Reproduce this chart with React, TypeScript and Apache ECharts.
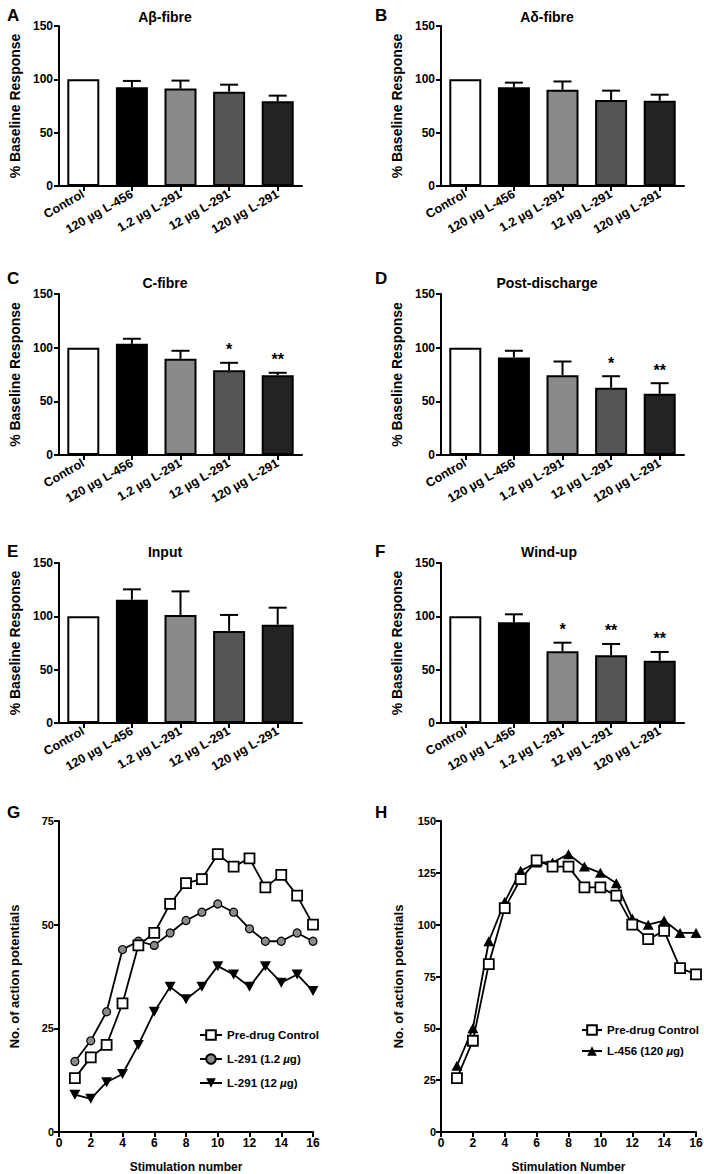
import React, { useEffect, useRef } from "react";
import * as echarts from "echarts";

const categories = ["Control", "120 µg L-456", "1.2 µg L-291", "12 µg L-291", "120 µg L-291"];

const aBetaMean = [100, 92.5, 91.3, 88.4, 79.4];
const aBetaSem = [0, 6, 7.5, 6.6, 5.3];
const aBetaStars = ["", "", "", "", ""];

const aDeltaMean = [100, 92.5, 90.3, 80.6, 80];
const aDeltaSem = [0, 4.4, 7.7, 8.8, 5.6];
const aDeltaStars = ["", "", "", "", ""];

const cFibreMean = [100, 103.6, 89.6, 79, 74.4];
const cFibreSem = [0, 4.7, 7.5, 6.9, 2.2];
const cFibreStars = ["", "", "", "*", "**"];

const postMean = [100, 90.9, 74.4, 62.6, 57];
const postSem = [0, 6.2, 12.7, 10.8, 9.9];
const postStars = ["", "", "", "*", "**"];

const inputMean = [100, 115.6, 101.3, 86.3, 92.2];
const inputSem = [0, 9.7, 22.1, 15, 15.9];
const inputStars = ["", "", "", "", ""];

const windMean = [100, 94.4, 67.2, 63.4, 58.4];
const windSem = [0, 7.5, 8.1, 10.7, 8.2];
const windStars = ["", "", "*", "**", "**"];

const barTicks = [0, 50, 100, 150];

const stimulation = [1, 2, 3, 4, 5, 6, 7, 8, 9, 10, 11, 12, 13, 14, 15, 16];
const gControl = [13, 18, 21, 31, 45, 48, 55, 60, 61, 67, 64, 66, 59, 62, 57, 50];
const gL291Low = [17, 22, 29, 44, 46, 45, 48, 51, 53, 55, 53, 49, 46, 46, 48, 46];
const gL291High = [9, 8, 12, 14, 21, 29, 35, 32, 35, 40, 38, 35, 40, 36, 38, 34];
const hControl = [26, 44, 81, 108, 122, 131, 128, 128, 118, 118, 114, 100, 93, 97, 79, 76];
const hL456 = [32, 50, 92, 111, 126, 130, 130, 134, 128, 125, 120, 103, 100, 102, 96, 96];

const FONT = '"Liberation Sans", Arial, Helvetica, sans-serif';
const barColors = ["#ffffff", "#000000", "#8a8a8a", "#555555", "#232323"];

const barPanels = [
  { title: "Aβ-fibre", letter: "A", mean: aBetaMean, sem: aBetaSem, stars: aBetaStars },
  { title: "Aδ-fibre", letter: "B", mean: aDeltaMean, sem: aDeltaSem, stars: aDeltaStars },
  { title: "C-fibre", letter: "C", mean: cFibreMean, sem: cFibreSem, stars: cFibreStars },
  { title: "Post-discharge", letter: "D", mean: postMean, sem: postSem, stars: postStars },
  { title: "Input", letter: "E", mean: inputMean, sem: inputSem, stars: inputStars },
  { title: "Wind-up", letter: "F", mean: windMean, sem: windSem, stars: windStars },
];

const barLayout = [
  { left: 59, top: 26, width: 243, height: 160, tx: 165, ty: 17, lx: 7, ly: 15 },
  { left: 441, top: 26, width: 243, height: 160, tx: 547, ty: 17, lx: 375, ly: 15 },
  { left: 59, top: 294, width: 243, height: 161, tx: 165, ty: 283, lx: 7, ly: 278 },
  { left: 441, top: 294, width: 243, height: 161, tx: 547, ty: 283, lx: 375, ly: 278 },
  { left: 59, top: 563, width: 243, height: 160, tx: 165, ty: 552, lx: 7, ly: 551 },
  { left: 441, top: 563, width: 243, height: 160, tx: 549, ty: 552, lx: 375, ly: 551 },
];

function errRender(sems: number[], stars: string[]) {
  return (params: any, api: any) => {
    const i = params.dataIndex;
    const m = api.value(1);
    const s = sems[i];
    const base = api.coord([i, m]);
    const top = api.coord([i, m + s]);
    const children: any[] = [];
    if (s > 0) {
      children.push({
        type: "line",
        shape: { x1: base[0], y1: base[1], x2: top[0], y2: top[1] },
        style: { stroke: "#000", lineWidth: 2 },
      });
      children.push({
        type: "line",
        shape: { x1: top[0] - 9, y1: top[1], x2: top[0] + 9, y2: top[1] },
        style: { stroke: "#000", lineWidth: 2 },
      });
    }
    if (stars[i]) {
      children.push({
        type: "text",
        x: top[0],
        y: top[1] - 13,
        style: {
          text: stars[i],
          fill: "#000",
          fontSize: 16,
          fontWeight: "bold",
          fontFamily: FONT,
          align: "center",
          verticalAlign: "middle",
        },
      });
    }
    return { type: "group", children };
  };
}

const axisLineStyle = { lineStyle: { color: "#000", width: 2 } };
const axisTickStyle = { show: true, length: 5, lineStyle: { color: "#000", width: 2 } };

export default function App() {
  const ref = useRef<HTMLDivElement>(null);
  useEffect(() => {
    if (!ref.current) return;
    const chart = echarts.init(ref.current, undefined, { renderer: "svg" });
    const grid: any[] = [];
    const xAxis: any[] = [];
    const yAxis: any[] = [];
    const series: any[] = [];
    const graphic: any[] = [];

    barPanels.forEach((p, k) => {
      const L = barLayout[k];
      grid.push({ left: L.left, top: L.top, width: L.width, height: L.height, containLabel: false, outerBoundsMode: "none" });
      xAxis.push({
        type: "category",
        gridIndex: k,
        data: categories,
        axisLine: axisLineStyle,
        axisTick: { ...axisTickStyle, alignWithLabel: true },
        axisLabel: { rotate: 30, interval: 0, margin: 7, fontSize: 12.5, fontWeight: "bold", color: "#000", fontFamily: FONT },
      });
      yAxis.push({
        type: "value",
        gridIndex: k,
        min: barTicks[0],
        max: barTicks[barTicks.length - 1],
        interval: barTicks[1] - barTicks[0],
        name: "% Baseline Response",
        nameLocation: "middle",
        nameGap: 37,
        nameTextStyle: { fontSize: 14, fontWeight: "bold", color: "#000", fontFamily: FONT },
        axisLine: { show: true, ...axisLineStyle },
        axisTick: axisTickStyle,
        splitLine: { show: false },
        axisLabel: { margin: 6, fontSize: 12, fontWeight: "bold", color: "#000", fontFamily: FONT },
      });
      series.push({
        type: "bar",
        xAxisIndex: k,
        yAxisIndex: k,
        barWidth: 32,
        data: p.mean.map((v, i) => ({
          value: v,
          itemStyle: { color: barColors[i], borderColor: "#000", borderWidth: 2 },
        })),
        z: 2,
      });
      series.push({
        type: "custom",
        xAxisIndex: k,
        yAxisIndex: k,
        renderItem: errRender(p.sem, p.stars),
        data: p.mean.map((v, i) => [i, v]),
        z: 3,
      });
      graphic.push({
        type: "text",
        x: L.tx,
        y: L.ty,
        style: {
          text: p.title,
          fontSize: 14,
          fontWeight: "bold",
          fontFamily: FONT,
          fill: "#000",
          align: "center",
          verticalAlign: "middle",
          textAlign: "center",
          textVerticalAlign: "middle",
        },
      });
      graphic.push({
        type: "text",
        x: L.lx,
        y: L.ly,
        style: {
          text: p.letter,
          fontSize: 17,
          fontWeight: "bold",
          fontFamily: FONT,
          fill: "#000",
          align: "left",
          verticalAlign: "middle",
          textAlign: "left",
          textVerticalAlign: "middle",
        },
      });
    });

    // line panels G and H
    const lineGrids = [
      { left: 59, top: 821, width: 254, height: 311, ymax: 75, xname: "Stimulation number", gap: 38, letter: "G", lx: 7 },
      { left: 441, top: 821, width: 255, height: 311, ymax: 150, xname: "Stimulation Number", gap: 36, letter: "H", lx: 375 },
    ];
    lineGrids.forEach((g, j) => {
      const k = 6 + j;
      grid.push({ left: g.left, top: g.top, width: g.width, height: g.height, containLabel: false, outerBoundsMode: "none" });
      xAxis.push({
        type: "value",
        gridIndex: k,
        min: 0,
        max: 16,
        interval: 2,
        name: g.xname,
        nameLocation: "middle",
        nameGap: 29,
        nameTextStyle: { fontSize: 12, fontWeight: "bold", color: "#000", fontFamily: FONT },
        axisLine: axisLineStyle,
        axisTick: axisTickStyle,
        splitLine: { show: false },
        axisLabel: { margin: 5, fontSize: 12, fontWeight: "bold", color: "#000", fontFamily: FONT },
      });
      yAxis.push({
        type: "value",
        gridIndex: k,
        min: 0,
        max: g.ymax,
        interval: 25,
        name: "No. of action potentials",
        nameLocation: "middle",
        nameGap: g.gap,
        nameTextStyle: { fontSize: 13, fontWeight: "bold", color: "#000", fontFamily: FONT },
        axisLine: { show: true, ...axisLineStyle },
        axisTick: axisTickStyle,
        splitLine: { show: false },
        axisLabel: { margin: 5, fontSize: 11, fontWeight: "bold", color: "#000", fontFamily: FONT },
      });
      graphic.push({
        type: "text",
        x: g.lx,
        y: 812,
        style: {
          text: g.letter,
          fontSize: 17,
          fontWeight: "bold",
          fontFamily: FONT,
          fill: "#000",
          align: "left",
          verticalAlign: "middle",
          textAlign: "left",
          textVerticalAlign: "middle",
        },
      });
    });

    const lineBase = { type: "line", lineStyle: { color: "#000", width: 1.8 }, z: 3 };
    const sq = { symbol: "rect", symbolSize: 10, itemStyle: { color: "#fff", borderColor: "#000", borderWidth: 1.8 } };
    series.push({
      ...lineBase, ...sq, name: "Pre-drug Control", xAxisIndex: 6, yAxisIndex: 6, z: 5,
      data: stimulation.map((s, i) => [s, gControl[i]]),
    });
    series.push({
      ...lineBase, name: "L-291 (1.2 µg)", xAxisIndex: 6, yAxisIndex: 6,
      symbol: "circle", symbolSize: 8, itemStyle: { color: "#8a8a8a", borderColor: "#000", borderWidth: 1.2 },
      data: stimulation.map((s, i) => [s, gL291Low[i]]),
    });
    series.push({
      ...lineBase, name: "L-291 (12 µg)", xAxisIndex: 6, yAxisIndex: 6,
      symbol: "path://M0,0 L12,0 L6,10 Z", symbolSize: [11, 10], itemStyle: { color: "#000", borderColor: "#000", borderWidth: 0 },
      data: stimulation.map((s, i) => [s, gL291High[i]]),
    });
    series.push({
      ...lineBase, name: "L-456 (120 µg)", xAxisIndex: 7, yAxisIndex: 7,
      symbol: "triangle", symbolSize: [11, 10], itemStyle: { color: "#000", borderColor: "#000", borderWidth: 0 },
      data: stimulation.map((s, i) => [s, hL456[i]]),
    });
    series.push({
      ...lineBase, ...sq, name: "Pre-drug Control", xAxisIndex: 7, yAxisIndex: 7, z: 5,
      data: stimulation.map((s, i) => [s, hControl[i]]),
    });

    const legendText = {
      fontSize: 11.5,
      fontWeight: "bold",
      color: "#000",
      fontFamily: FONT,
      rich: { i: { fontSize: 11.5, fontWeight: "bold", fontStyle: "italic", color: "#000", fontFamily: FONT } },
    };
    const fmt = (name: string) => name.replace("µ", "{i|µ}");

    chart.setOption({
      animation: false,
      backgroundColor: "#fff",
      textStyle: { fontFamily: FONT },
      grid,
      xAxis,
      yAxis,
      series,
      graphic,
      legend: [
        {
          orient: "vertical",
          left: 199,
          top: 1029,
          padding: 0,
          itemWidth: 22,
          itemHeight: 12,
          itemGap: 12,
          selectedMode: false,
          textStyle: legendText,
          formatter: fmt,
          data: ["Pre-drug Control", "L-291 (1.2 µg)", "L-291 (12 µg)"],
        },
        {
          orient: "vertical",
          left: 581,
          top: 1024,
          padding: 0,
          itemWidth: 20,
          itemHeight: 12,
          itemGap: 9,
          selectedMode: false,
          textStyle: legendText,
          formatter: fmt,
          data: ["Pre-drug Control", "L-456 (120 µg)"],
        },
      ],
    });
    return () => chart.dispose();
  }, []);
  return (
    <div
      ref={ref}
      style={{ position: "absolute", left: 0, top: 0, width: 704, height: 1174, background: "#fff" }}
    />
  );
}
